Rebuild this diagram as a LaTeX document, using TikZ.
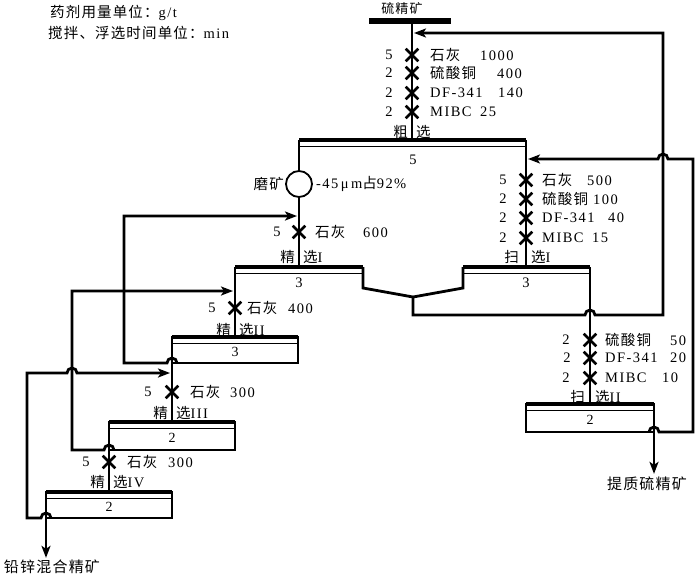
\documentclass[tikz,border=0pt]{standalone}
\usepackage{fontspec}
\setmainfont{Liberation Serif}
\newfontfamily\cjk[LetterSpace=8]{Noto Sans CJK SC}
\newfontfamily\lat[LetterSpace=10]{Liberation Serif}
\newcommand{\zh}[1]{{\cjk #1}}
\usetikzlibrary{arrows.meta, shapes.misc, calc}

\tikzset{
  flow/.style={line width=2.8pt},
  into/.style={flow, -{Stealth[length=12pt, width=9pt, inset=3pt]}},
  cell/.style={draw, line width=2.6pt, outer sep=0pt, inner sep=0pt, minimum width=126pt,
    minimum height=26pt, text height=13pt, text depth=0pt, font=\fontsize{14}{14}\selectfont},
  topbar/.style={line width=4.4pt},
  skin/.style={line width=1pt},
  xmark/.style={cross out, draw, line width=2.6pt, minimum size=10pt, inner sep=0pt},
  txt/.style={inner sep=0pt, font=\lat\fontsize{14.5}{16}\selectfont},
  dose/.style={txt, anchor=west},
  stage/.style={txt, font=\cjk\fontsize{14.5}{16}\selectfont},
  product/.style={txt, font=\cjk\fontsize{15}{16}\selectfont},
}

\begin{document}
\begin{tikzpicture}[x=1pt, y=-1pt]
    \useasboundingbox (0,0) rectangle (700,579);

    % units
    \node[txt, anchor=west] (note1) at (50,13) {\zh{药剂用量单位：}g/t};
    \node[txt, anchor=west] (note2) at (48,33) {\zh{搅拌、浮选时间单位：}min};

    % feed and rougher
    \node[fill, minimum width=82pt, minimum height=6pt, inner sep=0pt] (feed) at (410,21) {};
    \node[txt, font=\cjk\fontsize{13}{13}\selectfont] (feedlbl) at (402,9) {硫精矿};
    \coordinate (ro-in) at (412,140);
    \draw[flow] (feed.south -| ro-in) -- (ro-in);

    \foreach \y [count=\i] in {55,73,93,112}
        \node[xmark] (rx\i) at (412,\y) {};
    \node[txt] (rn1) at (389,55) {5};
    \node[txt] (rn2) at (389,73) {2};
    \node[txt] (rn3) at (389,93) {2};
    \node[txt] (rn4) at (389,112) {2};
    \node[dose] (rd1) at (430,55) {\makebox[50pt][l]{\zh{石灰}}1000};
    \node[dose] (rd2) at (430,73) {\makebox[67pt][l]{\zh{硫酸铜}}400};
    \node[dose] (rd3) at (430,93) {\makebox[68pt][l]{DF-341}140};
    \node[dose] (rd4) at (430,112) {\makebox[50pt][l]{MIBC}25};
    \node[stage, anchor=east] (ro-a) at (408,132) {粗};
    \node[stage, anchor=west] (ro-b) at (416,132) {选};

    \coordinate (ronw) at (299,140);
    \coordinate (rone) at (526,140);
    \draw[topbar] (ronw) -- (rone);
    \draw[skin] ([yshift=-6.5pt]ronw) -- ([yshift=-6.5pt]rone);
    \node[txt] (ro) at (413,160) {5};

    % regrind
    \node[circle, draw, line width=1.8pt, minimum size=26pt, inner sep=0pt] (grind) at (299,184) {};
    \node[txt, anchor=east] (grindlbl) at (284,184) {\zh{磨矿}};
    \node[txt, anchor=west] (size) at (316,184) {-45\,μ\,m\zh{占}92\%};
    \draw[flow] (ronw) -- (grind.north);

    % cleaner I
    \coordinate (cl1nw) at (235,267);
    \coordinate (cl1ne) at (363,267);
    \coordinate (cl1se) at (363,288);
    \coordinate (cl1-in) at (299,267);
    \draw[flow] (grind.south) -- (cl1-in);
    \node[xmark] (c1x) at (299,232) {};
    \node[txt] (c1n) at (277,232) {5};
    \node[dose] (c1d) at (315,232) {\makebox[48pt][l]{\zh{石灰}}600};
    \node[stage, anchor=east] (c1a) at (295,257) {精};
    \node[stage, anchor=west] (c1b) at (303,257) {选\lat I};
    \node[txt] (cl1) at (299,283) {3};

    % scavenger I
    \coordinate (sc1nw) at (463,267);
    \coordinate (sc1ne) at (590,267);
    \coordinate (sc1sw) at (463,288);
    \coordinate (sc1-in) at (526,267);
    \draw[flow] (rone) -- (sc1-in);
    \foreach \y [count=\i] in {180,199,218,238}
        \node[xmark] (sx\i) at (526,\y) {};
    \node[txt] (sn1) at (503,180) {5};
    \node[txt] (sn2) at (503,199) {2};
    \node[txt] (sn3) at (503,218) {2};
    \node[txt] (sn4) at (503,238) {2};
    \node[dose] (sd1) at (542,180) {\makebox[45pt][l]{\zh{石灰}}500};
    \node[dose] (sd2) at (542,199) {\makebox[51pt][l]{\zh{硫酸铜}}100};
    \node[dose] (sd3) at (542,218) {\makebox[66pt][l]{DF-341}40};
    \node[dose] (sd4) at (542,238) {\makebox[50pt][l]{MIBC}15};
    \node[stage, anchor=east] (s1a) at (519,257) {扫};
    \node[stage, anchor=west] (s1b) at (531,257) {选\lat I};
    \node[txt] (sc1) at (526,283) {3};

    \draw[topbar] (cl1nw) -- (cl1ne);
    \draw[skin] ([yshift=-6.5pt]cl1nw) -- ([yshift=-6.5pt]cl1ne);
    \draw[topbar] (sc1nw) -- (sc1ne);
    \draw[skin] ([yshift=-6.5pt]sc1nw) -- ([yshift=-6.5pt]sc1ne);

    \coordinate (mix) at (413,297);
    \coordinate (mixb) at (413,315);
    \draw[flow] (cl1ne) -- (cl1se) -- (mix) -- (sc1sw) -- (sc1nw);

    % middlings back to rougher
    \coordinate (rloop) at (663,315);
    \coordinate (ro-ret) at (414,33);
    \draw[into] (mix) -- (mixb) -- ($(mixb -| sc1ne)+(-5,0)$) arc[start angle=180, end angle=0, radius=5pt]
        -- (rloop) |- (ro-ret);

    % cleaner II
    \node[cell] (cl2) at (235,350) {3};
    \draw[flow] (cl1nw) -- (cl2.north);
    \node[xmark] (c2x) at (235,308) {};
    \node[txt] (c2n) at (212,308) {5};
    \node[dose] (c2d) at (247,308) {\makebox[41pt][l]{\zh{石灰}}400};
    \node[stage, anchor=east] (c2a) at (231,330) {精};
    \node[stage, anchor=west] (c2b) at (239,330) {选\lat II};

    % cleaner III
    \node[cell, minimum height=28pt] (cl3) at (172,436) {2};
    \draw[flow] (cl2.north west) -- (cl3.north);
    \node[xmark] (c3x) at (172,392) {};
    \node[txt] (c3n) at (148,392) {5};
    \node[dose] (c3d) at (190,392) {\makebox[40pt][l]{\zh{石灰}}300};
    \node[stage, anchor=east] (c3a) at (168,413) {精};
    \node[stage, anchor=west] (c3b) at (176,413) {选\lat III};

    % cleaner IV
    \node[cell] (cl4) at (109,505) {2};
    \draw[flow] (cl3.north west) -- (cl4.north);
    \node[xmark] (c4x) at (109,462) {};
    \node[txt] (c4n) at (86,462) {5};
    \node[dose] (c4d) at (127,462) {\makebox[41pt][l]{\zh{石灰}}300};
    \node[stage, anchor=east] (c4a) at (105,482) {精};
    \node[stage, anchor=west] (c4b) at (113,482) {选\lat IV};

    % scavenger II
    \node[cell, minimum width=128pt, minimum height=28pt] (sc2) at (590,418) {2};
    \draw[flow] (sc1ne) -- (sc2.north);
    \foreach \y [count=\i] in {340,358,378}
        \node[xmark] (tx\i) at (590,\y) {};
    \node[txt] (tn1) at (566,340) {2};
    \node[txt] (tn2) at (567,358) {2};
    \node[txt] (tn3) at (566,378) {2};
    \node[dose] (td1) at (605,340) {\makebox[65pt][l]{\zh{硫酸铜}}50};
    \node[dose] (td2) at (605,358) {\makebox[65pt][l]{DF-341}20};
    \node[dose] (td3) at (605,378) {\makebox[57pt][l]{MIBC}10};
    \node[stage, anchor=east] (s2a) at (585,397) {扫};
    \node[stage, anchor=west] (s2b) at (595,397) {选\lat II};

    \foreach \c in {cl2, cl3, cl4, sc2} {
        \draw[topbar] (\c.north west) -- (\c.north east);
        \draw[skin] ([yshift=-6.5pt]\c.north west) -- ([yshift=-6.5pt]\c.north east);
    }

    % returns of cleaner tails
    \coordinate (l2) at (124,363);
    \coordinate (cl1-ret) at (297,216);
    \draw[into] ($(cl2.south west)+(5,0)$) arc[start angle=0, end angle=180, radius=5pt]
        -- (l2) |- (cl1-ret);
    \coordinate (l3) at (72,450);
    \coordinate (cl2-ret) at (233,291);
    \draw[into] ($(cl3.south west)+(5,0)$) arc[start angle=0, end angle=180, radius=5pt]
        -- (l3) |- (cl2-ret);
    \coordinate (l4) at (27,518);
    \coordinate (cl3-ret) at (170,373);
    \draw[into] ($(cl4.south west)+(5,0)$) arc[start angle=0, end angle=180, radius=5pt]
        -- (l4) -- (l4 |- cl3-ret) -- ($(l3 |- cl3-ret)+(-5,0)$) arc[start angle=180, end angle=0, radius=5pt]
        -- (cl3-ret);

    % scavenger II tails back to scavenger I
    \coordinate (sloop) at (693,432);
    \coordinate (sc1-ret) at (528,159);
    \draw[into] ($(sc2.south east)+(-5,0)$) arc[start angle=180, end angle=0, radius=5pt]
        -- (sloop) |- ($(rloop |- sc1-ret)+(5,0)$) arc[start angle=0, end angle=180, radius=5pt]
        -- (sc1-ret);

    % products
    \node[product] (pbzn) at (52,567) {铅锌混合精矿};
    \draw[into] (cl4.north west) -- ([yshift=2pt]cl4.north west |- pbzn.north);
    \node[product] (sconc) at (647,484) {提质硫精矿};
    \draw[into] (sc2.north east) -- ([yshift=3pt]sc2.north east |- sconc.north);
\end{tikzpicture}
\end{document}
